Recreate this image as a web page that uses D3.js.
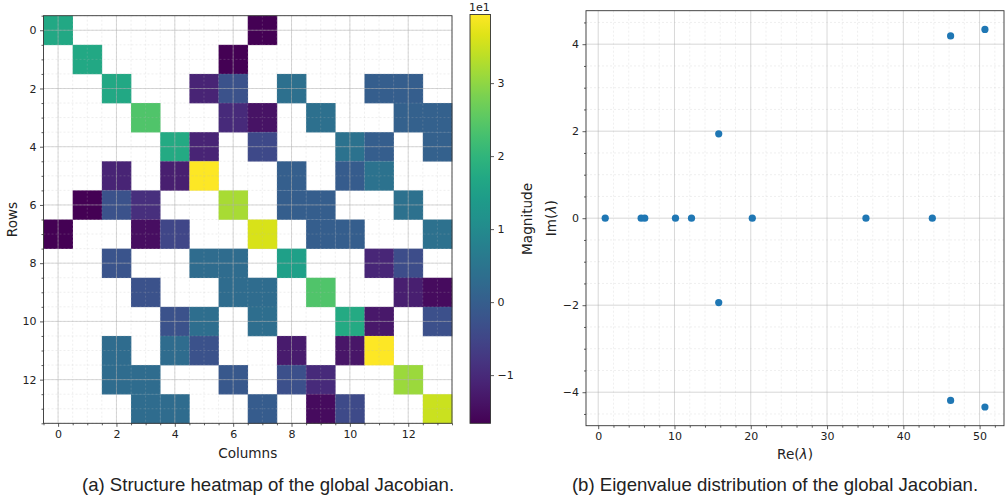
<!DOCTYPE html>
<html><head><meta charset="utf-8">
<script src="https://cdn.jsdelivr.net/npm/d3@7"></script>
<style>
body{margin:0;background:#fff}
svg text{font-family:"DejaVu Sans",sans-serif;fill:#222}
</style>
</head><body>
<svg id="chart" width="1006" height="499"></svg>
<script>
// ---------- data ----------
const rowLabels = d3.range(14);
const colLabels = d3.range(14);
// global Jacobian entries (null = structural zero), values in absolute units
const jacobian = [
  [17, null, null, null, null, null, null, -16.6, null, null, null, null, null, null],
  [null, 17, null, null, null, null, -16.6, null, null, null, null, null, null, null],
  [null, null, 17, null, null, -11, -2.6, null, 3.8, null, null, 0, 0, null],
  [null, null, null, 24, null, null, -10, -13.8, null, 3.8, null, null, 0.5, 0.5],
  [null, null, null, null, 17.5, -11, null, -4.3, null, null, 4.5, 0, null, 0.5],
  [null, null, -11, null, -12, 39.4, null, null, 0.2, null, -0.6, 4.5, null, null],
  [null, -16.4, -2.6, -9, null, null, 32, null, 0, 0, null, null, 4, null],
  [-16.5, null, null, -14.5, -5, null, null, 36, null, 0, 0, null, null, 4],
  [null, null, -2, null, null, 3, 3, null, 15, null, null, -10.5, -3.5, null],
  [null, null, null, -2.5, null, null, 3, 3, null, 24, null, null, -12, -15],
  [null, null, null, null, -2.5, 3.5, null, 3.5, null, null, 17.5, -13, null, -3],
  [null, null, 3, null, 3, -2.5, null, null, -12.5, null, -13.5, 39.4, null, null],
  [null, null, 3, 3, null, null, -1.5, null, -3, -10, null, null, 31, null],
  [null, null, null, 3, 3, null, null, -0.5, null, -15, -4, null, null, 35]
];
const colorbarTicks = [-10, 0, 10, 20, 30];
const eigRe = [0.92, 5.63, 6.1, 10.13, 12.23, 15.8, 15.8, 20.2, 35.1, 43.8, 46.2, 46.2, 50.7, 50.7];
const eigIm = [0, 0, 0, 0, 0, 1.94, -1.94, 0, 0, 0, 4.19, -4.19, 4.34, -4.34];
const xTicksB = [0, 10, 20, 30, 40, 50];
const yTicksB = [-4, -2, 0, 2, 4];
const captionA = "(a) Structure heatmap of the global Jacobian.";
const captionB = "(b) Eigenvalue distribution of the global Jacobian.";

// ---------- setup ----------
const svg = d3.select("#chart");
const fmt = v => (v < 0 ? "\u2212" : "") + Math.abs(v);
const spine = "#333";

// ---------- heatmap ----------
const H = {x0: 43.5, x1: 452, y0: 15.7, y1: 423.3};
const hx = d3.scaleLinear().domain([-0.5, 13.5]).range([H.x0, H.x1]);
const hy = d3.scaleLinear().domain([-0.5, 13.5]).range([H.y0, H.y1]);
const cells = [];
jacobian.forEach((r, i) => r.forEach((v, j) => { if (v !== null) cells.push({r: i, c: j, v}); }));
const vmin = d3.min(cells, d => d.v), vmax = d3.max(cells, d => d.v);
const color = d3.scaleSequential(d3.interpolateViridis).domain([vmin, vmax]);

const gA = svg.append("g");
gA.selectAll("rect.cell").data(cells).join("rect").attr("class", "cell")
  .attr("x", d => hx(d.c - 0.5)).attr("y", d => hy(d.r - 0.5))
  .attr("width", hx(0.5) - hx(-0.5) + 0.3).attr("height", hy(0.5) - hy(-0.5) + 0.3)
  .attr("fill", d => color(d.v));

const minorH = d3.range(-0.5, 13.51, 0.5);
const majorH = d3.range(0, 13, 2);
gA.selectAll("line.mgx").data(minorH).join("line")
  .attr("x1", d => hx(d)).attr("x2", d => hx(d)).attr("y1", H.y0).attr("y2", H.y1)
  .attr("stroke", "#bbb").attr("stroke-opacity", 0.4).attr("stroke-dasharray", "2,2").attr("stroke-width", 0.6);
gA.selectAll("line.mgy").data(minorH).join("line")
  .attr("y1", d => hy(d)).attr("y2", d => hy(d)).attr("x1", H.x0).attr("x2", H.x1)
  .attr("stroke", "#bbb").attr("stroke-opacity", 0.4).attr("stroke-dasharray", "2,2").attr("stroke-width", 0.6);
gA.selectAll("line.gx").data(majorH).join("line")
  .attr("x1", d => hx(d)).attr("x2", d => hx(d)).attr("y1", H.y0).attr("y2", H.y1)
  .attr("stroke", "#b0b0b0").attr("stroke-opacity", 0.55).attr("stroke-width", 0.9);
gA.selectAll("line.gy").data(majorH).join("line")
  .attr("y1", d => hy(d)).attr("y2", d => hy(d)).attr("x1", H.x0).attr("x2", H.x1)
  .attr("stroke", "#b0b0b0").attr("stroke-opacity", 0.55).attr("stroke-width", 0.9);

const axA_x = d3.axisBottom(hx).tickValues(majorH).tickFormat(fmt).tickSize(3.5).tickPadding(3.5);
const axA_y = d3.axisLeft(hy).tickValues(majorH).tickFormat(fmt).tickSize(3.5).tickPadding(3.5);
gA.append("g").attr("transform", `translate(0,${H.y1})`).call(axA_x);
gA.append("g").attr("transform", `translate(${H.x0},0)`).call(axA_y);
gA.append("g").attr("transform", `translate(0,${H.y1})`)
  .call(d3.axisBottom(hx).tickValues(minorH.filter(v => v % 2 !== 0)).tickFormat("").tickSize(2));
gA.append("g").attr("transform", `translate(${H.x0},0)`)
  .call(d3.axisLeft(hy).tickValues(minorH.filter(v => v % 2 !== 0)).tickFormat("").tickSize(2));
gA.selectAll(".domain").remove();
gA.selectAll(".tick line").attr("stroke", spine).attr("stroke-width", 0.8);
gA.selectAll(".tick text").style("font-size", "11px").attr("fill", "#222");
gA.append("rect").attr("x", H.x0).attr("y", H.y0).attr("width", H.x1 - H.x0).attr("height", H.y1 - H.y0)
  .attr("fill", "none").attr("stroke", spine).attr("stroke-width", 0.9);
gA.append("text").attr("x", (H.x0 + H.x1) / 2).attr("y", 458).attr("text-anchor", "middle")
  .style("font-size", "13.6px").text("Columns");
gA.append("text").attr("transform", `translate(17,${(H.y0 + H.y1) / 2}) rotate(-90)`).attr("text-anchor", "middle")
  .style("font-size", "13.6px").text("Rows");

// colorbar
const C = {x0: 470, x1: 490.5, y0: 14.5, y1: 423.3};
const cy = d3.scaleLinear().domain([vmin, vmax]).range([C.y1, C.y0]);
const defs = svg.append("defs");
const grad = defs.append("linearGradient").attr("id", "cbar").attr("x1", 0).attr("x2", 0).attr("y1", 1).attr("y2", 0);
d3.range(0, 1.0001, 0.05).forEach(t => grad.append("stop").attr("offset", t).attr("stop-color", d3.interpolateViridis(t)));
const gC = svg.append("g");
gC.append("rect").attr("x", C.x0).attr("y", C.y0).attr("width", C.x1 - C.x0).attr("height", C.y1 - C.y0)
  .attr("fill", "url(#cbar)").attr("stroke", spine).attr("stroke-width", 0.9);
const gcb = gC.append("g").attr("transform", `translate(${C.x1},0)`)
  .call(d3.axisRight(cy).tickValues(colorbarTicks).tickFormat(v => fmt(v / 10)).tickSize(3.5).tickPadding(3.5));
gcb.select(".domain").remove();
gcb.selectAll(".tick line").attr("stroke", spine).attr("stroke-width", 0.8);
gcb.selectAll(".tick text").style("font-size", "11px").attr("fill", "#222");
gC.append("text").attr("x", C.x0 - 1).attr("y", C.y0 - 3.5).style("font-size", "11px").text("1e1");
gC.append("text").attr("transform", `translate(532,${(C.y0 + C.y1) / 2}) rotate(-90)`).attr("text-anchor", "middle")
  .style("font-size", "13.6px").text("Magnitude");

// ---------- eigenvalue scatter ----------
const S = {x0: 586, x1: 1004, y0: 10.7, y1: 425.7};
const sx = d3.scaleLinear().domain([-1.6, 53.2]).range([S.x0, S.x1]);
const sy = d3.scaleLinear().domain([-4.77, 4.77]).range([S.y1, S.y0]);
const gB = svg.append("g");
const minorX = d3.range(0, 53.2, 2).filter(v => v % 10 !== 0);
const minorY = d3.range(-4.5, 4.6, 0.5).filter(v => Math.abs(v % 2) > 1e-9);
gB.selectAll("line.mx").data(minorX).join("line")
  .attr("x1", d => sx(d)).attr("x2", d => sx(d)).attr("y1", S.y0).attr("y2", S.y1)
  .attr("stroke", "#bbb").attr("stroke-opacity", 0.4).attr("stroke-dasharray", "2,2").attr("stroke-width", 0.6);
gB.selectAll("line.my").data(minorY).join("line")
  .attr("y1", d => sy(d)).attr("y2", d => sy(d)).attr("x1", S.x0).attr("x2", S.x1)
  .attr("stroke", "#bbb").attr("stroke-opacity", 0.4).attr("stroke-dasharray", "2,2").attr("stroke-width", 0.6);
gB.selectAll("line.gx").data(xTicksB).join("line")
  .attr("x1", d => sx(d)).attr("x2", d => sx(d)).attr("y1", S.y0).attr("y2", S.y1)
  .attr("stroke", "#b0b0b0").attr("stroke-opacity", 0.55).attr("stroke-width", 0.9);
gB.selectAll("line.gy").data(yTicksB).join("line")
  .attr("y1", d => sy(d)).attr("y2", d => sy(d)).attr("x1", S.x0).attr("x2", S.x1)
  .attr("stroke", "#b0b0b0").attr("stroke-opacity", 0.55).attr("stroke-width", 0.9);

gB.append("g").attr("transform", `translate(0,${S.y1})`)
  .call(d3.axisBottom(sx).tickValues(xTicksB).tickFormat(fmt).tickSize(3.5).tickPadding(3.5));
gB.append("g").attr("transform", `translate(${S.x0},0)`)
  .call(d3.axisLeft(sy).tickValues(yTicksB).tickFormat(fmt).tickSize(3.5).tickPadding(3.5));
gB.append("g").attr("transform", `translate(0,${S.y1})`)
  .call(d3.axisBottom(sx).tickValues(minorX).tickFormat("").tickSize(2));
gB.append("g").attr("transform", `translate(${S.x0},0)`)
  .call(d3.axisLeft(sy).tickValues(minorY).tickFormat("").tickSize(2));
gB.selectAll(".domain").remove();
gB.selectAll(".tick line").attr("stroke", spine).attr("stroke-width", 0.8);
gB.selectAll(".tick text").style("font-size", "11px").attr("fill", "#222");

const pts = eigRe.map((r, i) => ({re: r, im: eigIm[i]}));
gB.selectAll("circle").data(pts).join("circle")
  .attr("cx", d => sx(d.re)).attr("cy", d => sy(d.im)).attr("r", 3.6).attr("fill", "#1f77b4");
gB.append("rect").attr("x", S.x0).attr("y", S.y0).attr("width", S.x1 - S.x0).attr("height", S.y1 - S.y0)
  .attr("fill", "none").attr("stroke", spine).attr("stroke-width", 0.9);

const reLab = gB.append("text").attr("x", (S.x0 + S.x1) / 2).attr("y", 459).attr("text-anchor", "middle").style("font-size", "13.6px");
reLab.append("tspan").text("Re(");
reLab.append("tspan").attr("font-style", "italic").text("\u03bb");
reLab.append("tspan").text(")");
const imLab = gB.append("text").attr("transform", `translate(556,${(S.y0 + S.y1) / 2}) rotate(-90)`).attr("text-anchor", "middle").style("font-size", "13.6px");
imLab.append("tspan").text("Im(");
imLab.append("tspan").attr("font-style", "italic").text("\u03bb");
imLab.append("tspan").text(")");

// ---------- captions ----------
svg.append("text").attr("x", 268).attr("y", 491).attr("text-anchor", "middle")
  .style("font-family", "'Liberation Sans', Arial, sans-serif").style("font-size", "18.6px").attr("fill", "#111").text(captionA);
svg.append("text").attr("x", 775).attr("y", 491).attr("text-anchor", "middle")
  .style("font-family", "'Liberation Sans', Arial, sans-serif").style("font-size", "18.6px").attr("fill", "#111").text(captionB);
</script>
</body></html>
